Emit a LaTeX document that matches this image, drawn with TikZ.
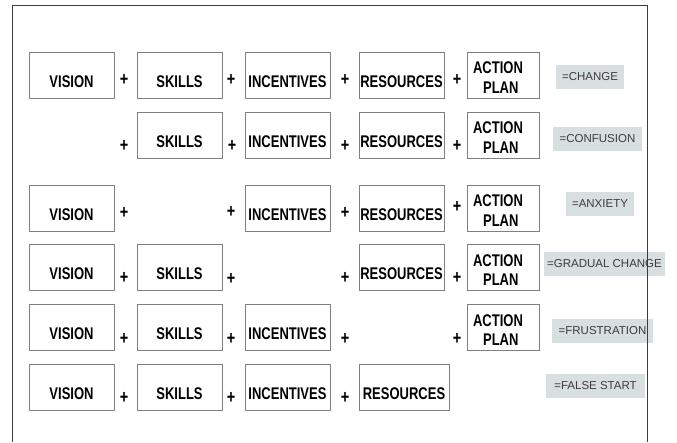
\documentclass[tikz,border=0pt]{standalone}
\usepackage{fontspec}
\usepackage{graphicx}
\setmainfont{Liberation Sans}
\usetikzlibrary{positioning}
\definecolor{boxgray}{RGB}{128,128,128}
\definecolor{tagfill}{RGB}{216,223,224}
\definecolor{tagtext}{RGB}{60,60,60}
\definecolor{framegray}{RGB}{60,60,60}
\newcommand{\stretched}[1]{\scalebox{1}[1.3]{#1}}
\newcommand{\actionplan}{\stretched{\begin{tabular}[t]{@{}l@{}}ACTION\\\hspace*{10pt}PLAN\end{tabular}}\hspace*{10pt}}

\tikzset{
  cell/.style={draw=boxgray, line width=0.8pt, minimum width=85pt, minimum height=46pt,
    inner xsep=1pt, font=\fontsize{13}{15.2}\selectfont\bfseries},
  word/.style={cell, text height=24pt, text depth=0pt},
  plan/.style={cell, minimum width=72pt, text height=0pt, text depth=3pt},
  plus/.style={font=\fontsize{14.5}{16}\selectfont\bfseries, inner sep=0pt},
  tag/.style={fill=tagfill, text=tagtext, minimum height=24pt, inner xsep=2pt,
    font=\fontsize{11.5}{13}\selectfont}
}

\begin{document}
\begin{tikzpicture}[x=1pt, y=-1pt]
    \useasboundingbox (0,0) rectangle (677,442);
    % Riga 1: cambiamento
    \node[word] (vis1) at (71.5,75) {\stretched{VISION}};
    \node[word] (ski1) at (179.5,75) {\stretched{SKILLS}};
    \node[word] (inc1) at (287.5,75) {\stretched{INCENTIVES}};
    \node[word] (res1) at (401.5,75) {\stretched{RESOURCES}};
    \node[plan] (act1) at (503,75) {\actionplan};
    \node[plus] (p11) at (124,80) {\stretched{+}};
    \node[plus] (p12) at (231,80) {\stretched{+}};
    \node[plus] (p13) at (345,80) {\stretched{+}};
    \node[plus] (p14) at (457,80) {\stretched{+}};
    \node[tag, minimum width=68pt] (change) at (590,77) {=CHANGE};
    % Riga 2: senza visione
    \node[word] (ski2) at (179.5,135) {\stretched{SKILLS}};
    \node[word] (inc2) at (287.5,135) {\stretched{INCENTIVES}};
    \node[word] (res2) at (401.5,135) {\stretched{RESOURCES}};
    \node[plan] (act2) at (503,135) {\actionplan};
    \node[plus] (p21) at (124,146) {\stretched{+}};
    \node[plus] (p22) at (232,146) {\stretched{+}};
    \node[plus] (p23) at (345,146) {\stretched{+}};
    \node[plus] (p24) at (457,146) {\stretched{+}};
    \node[tag, minimum width=89pt] (confusion) at (597.5,139) {=CONFUSION};
    % Riga 3: senza competenze
    \node[word] (vis3) at (71.5,208) {\stretched{VISION}};
    \node[word] (inc3) at (287.5,208) {\stretched{INCENTIVES}};
    \node[word] (res3) at (401.5,208) {\stretched{RESOURCES}};
    \node[plan] (act3) at (503,208) {\actionplan};
    \node[plus] (p31) at (124,213) {\stretched{+}};
    \node[plus] (p32) at (231,212) {\stretched{+}};
    \node[plus] (p33) at (345,213) {\stretched{+}};
    \node[plus] (p34) at (457,207) {\stretched{+}};
    \node[tag, minimum width=68pt] (anxiety) at (600,203.5) {=ANXIETY};
    % Riga 4: senza incentivi
    \node[word] (vis4) at (71.5,267.5) {\stretched{VISION}};
    \node[word] (ski4) at (179.5,267.5) {\stretched{SKILLS}};
    \node[word] (res4) at (401.5,267.5) {\stretched{RESOURCES}};
    \node[plan] (act4) at (503,267.5) {\actionplan};
    \node[plus] (p41) at (124,278) {\stretched{+}};
    \node[plus] (p42) at (231,279) {\stretched{+}};
    \node[plus] (p43) at (345,278) {\stretched{+}};
    \node[plus] (p44) at (457,278) {\stretched{+}};
    \node[tag, minimum width=121pt] (gradual) at (604.5,263.5) {=GRADUAL CHANGE};
    % Riga 5: senza risorse
    \node[word] (vis5) at (71.5,327.5) {\stretched{VISION}};
    \node[word] (ski5) at (179.5,327.5) {\stretched{SKILLS}};
    \node[word] (inc5) at (287.5,327.5) {\stretched{INCENTIVES}};
    \node[plan] (act5) at (503,327.5) {\actionplan};
    \node[plus] (p51) at (124,339) {\stretched{+}};
    \node[plus] (p52) at (231,339) {\stretched{+}};
    \node[plus] (p53) at (345,339) {\stretched{+}};
    \node[plus] (p54) at (457,339) {\stretched{+}};
    \node[tag, minimum width=101pt] (frustration) at (602.5,331) {=FRUSTRATION};
    % Riga 6: senza piano d'azione
    \node[word] (vis6) at (71.5,387.5) {\stretched{VISION}};
    \node[word] (ski6) at (179.5,387.5) {\stretched{SKILLS}};
    \node[word] (inc6) at (287.5,387.5) {\stretched{INCENTIVES}};
    \node[word, minimum width=90pt] (res6) at (404,387.5) {\stretched{RESOURCES}};
    \node[plus] (p61) at (124,398) {\stretched{+}};
    \node[plus] (p62) at (231,398) {\stretched{+}};
    \node[plus] (p63) at (345,398) {\stretched{+}};
    \node[tag, minimum width=99pt] (falsestart) at (595.5,385.5) {=FALSE START};
    % Cornice
    \draw[framegray, line width=0.8pt] (12,442) -- (12,5) -- (647,5) -- (647,442);
\end{tikzpicture}
\end{document}
